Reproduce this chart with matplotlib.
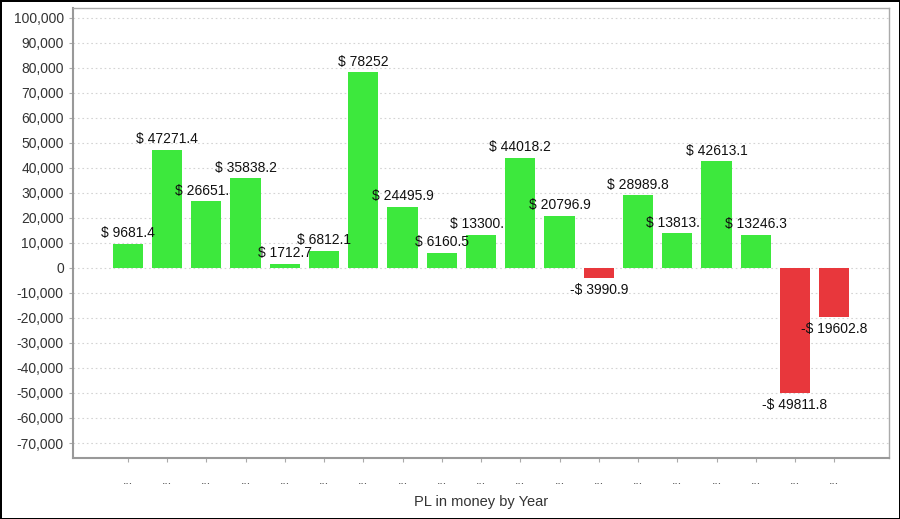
import numpy as np
import matplotlib.pyplot as plt
from matplotlib.ticker import FuncFormatter

plt.rcParams['font.family'] = ['Liberation Sans', 'DejaVu Sans']

# PL per year
values = [9681.4, 47271.4, 26651.0, 35838.2, 1712.7, 6812.1, 78252, 24495.9,
          6160.5, 13300.0, 44018.2, 20796.9, -3990.9, 28989.8, 13813.0, 42613.1,
          13246.3, -49811.8, -19602.8]
shown = ['$ 9681.4', '$ 47271.4', '$ 26651.', '$ 35838.2', '$ 1712.7', '$ 6812.1',
         '$ 78252', '$ 24495.9', '$ 6160.5', '$ 13300.', '$ 44018.2', '$ 20796.9',
         '-$ 3990.9', '$ 28989.8', '$ 13813.', '$ 42613.1', '$ 13246.3',
         '-$ 49811.8', '-$ 19602.8']
cats = ['...'] * len(values)
yticks = np.arange(-70000, 100001, 10000)

green = '#3de83d'
red = '#e8373c'

fig = plt.figure(figsize=(9, 5.19), dpi=100)
fig.patch.set_edgecolor('black')
fig.patch.set_linewidth(2)
ax = fig.add_axes([0.081, 0.1175, 0.907, 0.8675])

x = np.arange(len(values))
colors = [green if v >= 0 else red for v in values]
ax.bar(x, values, width=0.77, color=colors, zorder=2)

ax.set_xlim(-1.4, len(values) - 1 + 1.4)
ax.set_ylim(-76000, 104000)
ax.set_yticks(yticks)
ax.yaxis.set_major_formatter(FuncFormatter(lambda v, p: f'{int(v):,}'))
ax.set_xticks(x)
ax.set_xticklabels(cats, fontsize=9, color='#444444')
ax.tick_params(axis='y', labelsize=10, labelcolor='#333333', length=3, color='#aaaaaa')
ax.tick_params(axis='x', length=3, color='#aaaaaa', pad=9)
ax.grid(axis='y', color='#d4d4d4', linestyle=(0, (1.5, 2.5)), linewidth=0.8, zorder=0)
for s in ax.spines.values():
    s.set_color('#aaaaaa')
    s.set_linewidth(1)
ax.spines['left'].set_color('#999999')
ax.spines['bottom'].set_color('#999999')
ax.spines['left'].set_linewidth(1.5)
ax.spines['bottom'].set_linewidth(1.5)

ax.set_xlabel('PL in money by Year', fontsize=10.5, color='#333333', labelpad=6)

# value labels, left edge placed as if the full label were centred
fig.canvas.draw()
renderer = fig.canvas.get_renderer()
for xi, v, lab in zip(x, values, shown):
    full = lab + '0' if lab.endswith('.') else lab
    t = ax.annotate(full, (xi, v), xytext=(0, 10 if v >= 0 else -12),
                    textcoords='offset points', fontsize=10, color='#111111',
                    ha='center', va='center', zorder=3)
    w = t.get_window_extent(renderer).width
    t.remove()
    ax.annotate(lab, (xi, v), xytext=(-w / 2 * 72 / fig.dpi, 7.5 if v >= 0 else -9),
                textcoords='offset points', fontsize=10, color='#111111',
                ha='left', va='center', zorder=3)

fig.savefig('out.png', dpi=100, edgecolor=fig.get_edgecolor())
